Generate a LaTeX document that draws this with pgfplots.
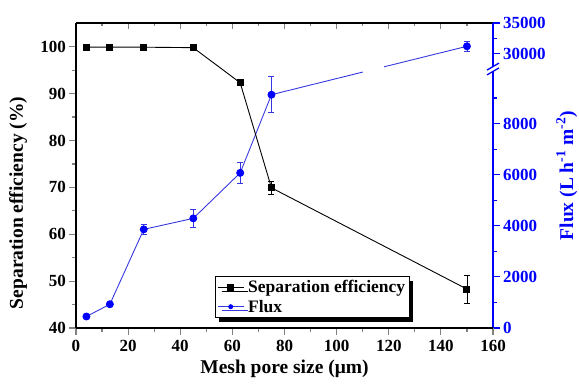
\documentclass[border=0pt]{standalone}
\usepackage{pgfplots}
\pgfplotsset{compat=1.18}
\usepackage{pgfplotstable}
\usepackage{fontspec}
\setmainfont{Liberation Serif}
\usetikzlibrary{shadows}

\definecolor{fluxblue}{RGB}{0,0,255}
\definecolor{fluxline}{RGB}{55,55,225}

% flux value -> position on the broken right axis (lower part in thousands, compressed upper part)
\newcommand{\fmap}[1]{((((#1)<20000) ? ((#1)/1000) : (10.735+((#1)-30000)*0.00024)))}

\pgfplotstableread{
x y e
4 99.9 0.1
13 99.9 0.1
26 99.9 0.1
45 99.8 0.1
63 92.3 0.5
75 69.9 1.3
150 48.3 3.0
}\sedata

\pgfplotstableread{
x y e
4 450 40
13 930 50
26 3860 210
45 4290 365
63 6070 420
75 9130 700
150 31200 820
}\fluxdata

\pgfplotsset{
  base/.style={scale only axis, width=417pt, height=305pt, at={(76pt,61pt)}, anchor=south west,
    xmin=0, xmax=160,
    /pgf/number format/assume math mode=true,
    tick label style={font=\bfseries\fontsize{17}{17}\selectfont},
    label style={font=\bfseries\fontsize{19.5}{19.5}\selectfont},
    axis line style={line width=1.7pt},
    major tick length=6.5pt, minor tick length=3.5pt,
    every tick/.append style={line width=1.2pt},
  },
}

\begin{document}
\begin{tikzpicture}
\useasboundingbox (0,0) rectangle (579pt,389pt);

% top frame line with inward ticks
\begin{axis}[base, axis x line*=top, hide y axis, ymin=0, ymax=1,
  xtick={0,20,...,160}, minor x tick num=1, xticklabels={},
  xtick align=inside, major tick length=6pt, minor tick length=3.5pt]
\end{axis}

% flux axis (right, broken)
\begin{axis}[base, hide x axis, axis y line*=right,
  ymin=0, ymax=11.935,
  ytick={0,2,4,6,8,10.735,11.935},
  yticklabels={0,2000,4000,6000,8000,30000,35000},
  minor ytick={1,3,5,7,9,11.335},
  ytick align=outside,
  y axis line style={fluxblue},
  ytick style={fluxblue},
  yticklabel style={text=fluxblue},
  ylabel={Flux (L h\textsuperscript{-1} m\textsuperscript{-2})},
  ylabel style={text=fluxblue, at={(axis description cs:1.177,0.5)}, anchor=center},
  after end axis/.code={
    \fill[white] (axis cs:110.3,9.8) rectangle (axis cs:118,10.4);
    \fill[white] ([xshift=-2pt]axis cs:160,10.04) rectangle ([xshift=2pt]axis cs:160,10.23);
    \draw[fluxblue, line width=1.3pt] ([xshift=-6pt,yshift=-3.5pt]axis cs:160,10.04) -- ([xshift=6pt,yshift=3.5pt]axis cs:160,10.04);
    \draw[fluxblue, line width=1.3pt] ([xshift=-6pt,yshift=-3.5pt]axis cs:160,10.23) -- ([xshift=6pt,yshift=3.5pt]axis cs:160,10.23);
  }]
\addplot[fluxline, line width=0.9pt, mark=*, mark size=3.5pt, mark options={fluxblue, fill=fluxblue},
  error bars/.cd, y dir=both, y explicit,
  error bar style={fluxline, line width=0.7pt},
  error mark options={rotate=90, mark size=3pt, line width=0.7pt, fluxline}]
  table[x=x, y expr={\fmap{\thisrow{y}}},
        y error plus expr={\fmap{\thisrow{y}+\thisrow{e}}-\fmap{\thisrow{y}}},
        y error minus expr={\fmap{\thisrow{y}}-\fmap{\thisrow{y}-\thisrow{e}}}] {\fluxdata};
\end{axis}

% separation efficiency axis (left)
\begin{axis}[base, axis x line*=bottom, axis y line*=left,
  ymin=40, ymax=105.06,
  xtick={0,20,...,160}, minor x tick num=1,
  ytick={40,50,...,100}, minor y tick num=1,
  tick align=outside,
  xticklabel style={yshift=-2.5pt},
  xlabel={Mesh pore size (μm)},
  ylabel={Separation efficiency (\%)},
  xlabel style={at={(axis description cs:0.5,-0.135)}, anchor=center},
  ylabel style={at={(axis description cs:-0.139,0.41)}, anchor=center},
  legend image code/.code={
    \draw[#1, mark=none] (0pt,0pt) -- (26pt,0pt);
    \draw[#1, only marks] plot coordinates {(13pt,0pt)};
    \path (28pt,0pt);},
  legend cell align=left,
  legend style={at={(axis description cs:0.333,0.033)}, anchor=south west,
    draw=black, line width=0.8pt, fill=white,
    font=\bfseries\fontsize{17.5}{17.5}\selectfont,
    inner sep=2pt, row sep=1.5pt,
    drop shadow={shadow xshift=4pt, shadow yshift=-4pt, fill=black, opacity=1}},
]
\addplot[black, line width=0.9pt, mark=square*, mark size=3pt,
  error bars/.cd, y dir=both, y explicit,
  error bar style={black, line width=0.7pt},
  error mark options={rotate=90, mark size=3pt, line width=0.7pt, black}]
  table[x=x, y=y, y error=e] {\sedata};
\addlegendentry{Separation efficiency}
\addlegendimage{fluxline, line width=0.9pt, mark=*, mark size=2pt, mark options={fluxblue, fill=fluxblue}}
\addlegendentry{Flux}
\end{axis}
\end{tikzpicture}
\end{document}
